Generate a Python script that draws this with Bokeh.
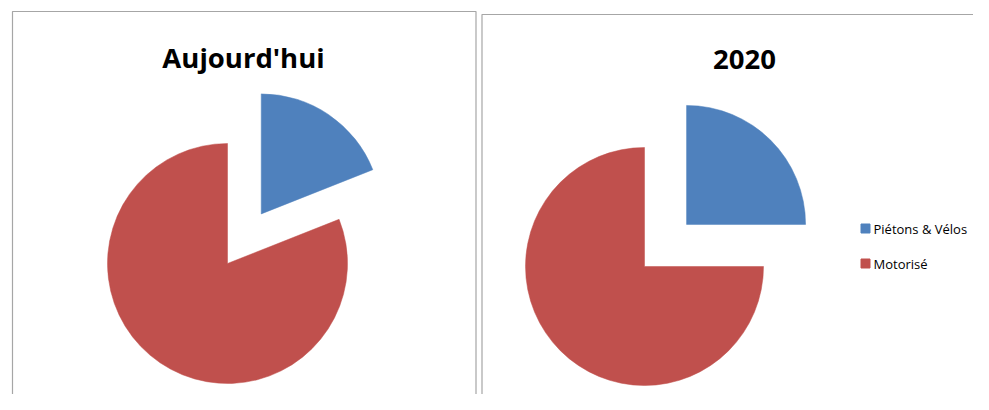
import math
from bokeh.plotting import figure
from bokeh.models import Range1d, ColumnDataSource
from bokeh.core.properties import value
from bokeh.embed import file_html
from bokeh.resources import INLINE

# ---- data ----
categories = ["Piétons & Vélos", "Motorisé"]
share_today = [19, 81]
share_2020 = [25, 75]
titles = ["Aujourd'hui", "2020"]
colors = ["#4F81BD", "#C0504D"]

# ---- layout (picture pixel coordinates; data y = 410 - screen y) ----
W, H = 973, 394
def sy(y):
    return 410 - y

p = figure(width=W, height=H, x_range=Range1d(0, W), y_range=Range1d(410 - H, 410),
           x_axis_type=None, y_axis_type=None, toolbar_location=None,
           output_backend="svg", min_border=0, outline_line_color=None,
           background_fill_color="white", border_fill_color="white")
p.grid.visible = False

border = "#a6a6a6"
# panel frames (left, top, right, bottom) - extend beyond view where cropped
panels = [(12, 11, 475.5, 500), (481.5, 14, 1100, 500)]
for l, t, r, b in panels:
    p.quad(left=[l], right=[r], top=[sy(t)], bottom=[sy(b)], fill_color=None,
           line_color=border, line_width=1.2)

pies = [
    dict(values=share_today, cx=227, cy=263, r=120, title=titles[0], tx=243, ty=57),
    dict(values=share_2020, cx=644, cy=266, r=119, title=titles[1], tx=744, ty=59),
]
explode = 0.5

for pie in pies:
    total = float(sum(pie["values"]))
    start = math.pi / 2
    xs, ys, sa, ea = [], [], [], []
    for i, v in enumerate(pie["values"]):
        ang = 2 * math.pi * v / total
        end = start - ang
        mid = (start + end) / 2
        off = pie["r"] * explode if i == 0 else 0.0
        xs.append(pie["cx"] + off * math.cos(mid))
        ys.append(sy(pie["cy"]) + off * math.sin(mid))
        sa.append(start)
        ea.append(end)
        start = end
    src = ColumnDataSource(dict(x=xs, y=ys, sa=sa, ea=ea, color=colors))
    p.wedge(x="x", y="y", radius=pie["r"], start_angle="sa", end_angle="ea",
            direction="clock", fill_color="color", line_color="color", line_width=0.5,
            source=src)
    p.text(x=[pie["tx"]], y=[sy(pie["ty"])], text=[pie["title"]],
           text_font=value("Open Sans"), text_font_style="bold", text_font_size="27.5px",
           text_align="center", text_baseline="alphabetic", text_color="black")

# legend
leg_y = [228, 263]
p.scatter(x=[865, 865], y=[sy(v) for v in leg_y], marker="square", size=9,
          fill_color=colors, line_color=colors)
p.text(x=[873, 873], y=[sy(v) for v in leg_y], text=categories,
       text_font=value("Open Sans"), text_font_size="13px",
       text_align="left", text_baseline="middle", text_color="black")

open("out.html", "w").write(file_html(p, INLINE))
